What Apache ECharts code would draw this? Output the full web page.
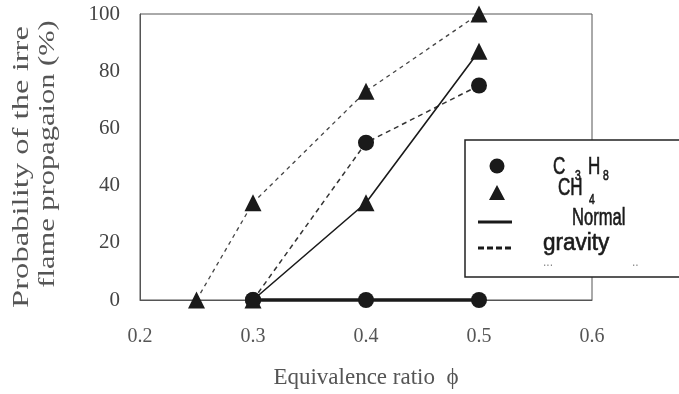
<!DOCTYPE html>
<html>
<head>
<meta charset="utf-8">
<script src="https://cdn.jsdelivr.net/npm/echarts@6/dist/echarts.min.js"></script>
<style>
    html, body { margin: 0; padding: 0; background: #fff; }
    #chart { width: 679px; height: 394px; }
</style>
</head>
<body>
<div id="chart"></div>
<script>
// data
var xTicks = [0.2, 0.3, 0.4, 0.5, 0.6];
var yTicks = [0, 20, 40, 60, 80, 100];

var phiC3H8 = [0.3, 0.4, 0.5];
var c3h8Normal = [0, 0, 0];
var c3h8Gravity = [0, 55, 75];

var phiCH4Normal = [0.3, 0.4, 0.5];
var ch4Normal = [0, 34, 87];

var phiCH4Gravity = [0.25, 0.3, 0.4, 0.5];
var ch4Gravity = [0, 34, 73, 100];

function pairs(xs, ys) {
    var out = [];
    for (var i = 0; i < xs.length; i++) {
        out.push([xs[i], ys[i]]);
    }
    return out;
}

var serif = '"Liberation Serif", "DejaVu Serif", serif';
var sans = '"Liberation Sans", Arial, sans-serif';
var ink = '#1a1a1a';
var grey = '#555';

// legend text, squeezed to look like the condensed face of the scan
function legText(x, y, txt, size, sx) {
    return {
        type: 'text', z: 101, x: x, y: y, scaleX: sx || 0.74,
        style: { text: txt, font: size + 'px ' + sans, fill: ink, stroke: ink, lineWidth: 0.6, verticalAlign: 'middle' }
    };
}

var chartDom = document.getElementById('chart');
var myChart = echarts.init(chartDom);

var option = {
    animation: false,
    backgroundColor: '#fff',
    grid: {
        left: 140, right: 87, top: 14, bottom: 94,
        outerBoundsMode: 'none',
        show: true, borderColor: '#555', borderWidth: 1
    },
    xAxis: {
        type: 'value',
        min: xTicks[0], max: xTicks[xTicks.length - 1], interval: 0.1,
        name: 'Equivalence ratio  \u03d5',
        nameLocation: 'middle',
        nameGap: 66,
        nameTextStyle: { fontFamily: serif, fontSize: 23, color: grey },
        axisLine: { show: true, lineStyle: { color: grey, width: 1 } },
        axisTick: { show: false },
        splitLine: { show: false },
        axisLabel: {
            margin: 27, fontFamily: serif, fontSize: 20, color: grey,
            formatter: function (v) { return v.toFixed(1); }
        }
    },
    yAxis: {
        type: 'value',
        min: yTicks[0], max: yTicks[yTicks.length - 1], interval: 20,
        axisLine: { show: true, lineStyle: { color: grey, width: 1 } },
        axisTick: { show: false },
        splitLine: { show: false },
        axisLabel: { margin: 20, fontFamily: serif, fontSize: 21, color: '#444' }
    },
    series: [
        {
            name: 'C3H8 normal', type: 'line', data: pairs(phiC3H8, c3h8Normal),
            symbol: 'circle', symbolSize: 16, clip: false, z: 3,
            lineStyle: { color: ink, width: 3.5 }, itemStyle: { color: ink }
        },
        {
            name: 'C3H8 gravity', type: 'line', data: pairs(phiC3H8, c3h8Gravity),
            symbol: 'circle', symbolSize: 16, clip: false,
            lineStyle: { color: '#333', width: 1.5, type: [5, 4] }, itemStyle: { color: ink }
        },
        {
            name: 'CH4 normal', type: 'line', data: pairs(phiCH4Normal, ch4Normal),
            symbol: 'triangle', symbolSize: 17, clip: false,
            lineStyle: { color: ink, width: 1.6 }, itemStyle: { color: ink }
        },
        {
            name: 'CH4 gravity', type: 'line', data: pairs(phiCH4Gravity, ch4Gravity),
            symbol: 'triangle', symbolSize: 17, clip: false,
            lineStyle: { color: '#444', width: 1.3, type: [4, 4] }, itemStyle: { color: ink }
        }
    ],
    graphic: [
        // y axis title, two lines, rotated and spread out like the scan
        { type: 'text', x: 22, y: 167, rotation: Math.PI / 2, scaleX: 1.36,
          style: { text: 'Probability of the irre', font: '24px ' + serif, fill: grey, align: 'center', verticalAlign: 'middle' } },
        { type: 'text', x: 48, y: 154, rotation: Math.PI / 2, scaleX: 1.27,
          style: { text: 'flame propagaion (%)', font: '24px ' + serif, fill: grey, align: 'center', verticalAlign: 'middle' } },

        // legend box
        { type: 'rect', z: 100, shape: { x: 465, y: 140, width: 240, height: 137 },
          style: { fill: '#fff', stroke: '#222', lineWidth: 1.5 } },
        { type: 'circle', z: 101, shape: { cx: 497, cy: 166, r: 7.5 }, style: { fill: ink } },
        { type: 'polygon', z: 101, shape: { points: [[497, 185], [505, 200], [489, 200]] }, style: { fill: ink } },
        { type: 'line', z: 101, shape: { x1: 478, y1: 222, x2: 512, y2: 222 }, style: { stroke: ink, lineWidth: 3 } },
        { type: 'line', z: 101, shape: { x1: 478, y1: 248, x2: 513, y2: 248 }, style: { stroke: ink, lineWidth: 3, lineDash: [6, 3] } },
        legText(553, 168, 'C', 23),
        legText(575, 176, '3', 14),
        legText(588, 168, 'H', 23),
        legText(603, 176, '8', 14),
        legText(558, 189, 'CH', 23),
        legText(589, 200, '4', 14),
        legText(572, 219, 'Normal', 23, 0.72),
        legText(543, 244, 'gravity', 23, 0.98),
        { type: 'text', z: 101, x: 543, y: 263, style: { text: '...', font: '12px ' + sans, fill: '#888', verticalAlign: 'middle' } },
        { type: 'text', z: 101, x: 632, y: 263, style: { text: '..', font: '12px ' + sans, fill: '#888', verticalAlign: 'middle' } }
    ]
};

option && myChart.setOption(option);
</script>
</body>
</html>
